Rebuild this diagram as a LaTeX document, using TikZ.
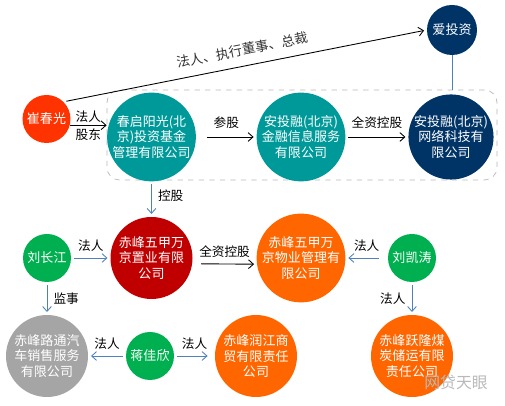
\documentclass[tikz,border=0pt]{standalone}
\usepackage{fontspec}
\setmainfont{Noto Sans CJK SC}
\usetikzlibrary{arrows.meta}
\definecolor{cjorg}{HTML}{FF3300}
\definecolor{cjteal}{HTML}{009999}
\definecolor{cjnavy}{HTML}{003366}
\definecolor{cjgreen}{HTML}{00B050}
\definecolor{cjred}{HTML}{C00000}
\definecolor{cjorange}{HTML}{FF6600}
\definecolor{cjgray}{HTML}{A5A5A5}
\definecolor{cjblue}{HTML}{4F81BD}

\begin{document}
\begin{tikzpicture}[
    co/.style={circle,inner sep=0pt,minimum size=1.64cm,text=white,align=center,
      font=\fontsize{7.4}{8.8}\selectfont},
    ps/.style={circle,inner sep=0pt,minimum size=0.96cm,text=white,
      font=\fontsize{7.4}{8.8}\selectfont},
    arr/.style={-{Straight Barb[length=2.8pt,width=5pt]},line width=0.5pt,
      shorten >=1.5pt,shorten <=1.5pt},
    barr/.style={arr,draw=cjblue},
    lbl/.style={inner sep=1.5pt,font=\fontsize{7.2}{8}\selectfont}]
  \useasboundingbox (0,0) rectangle (10.1,8.12);
  % group of the three companies
  \node[draw=gray!55,dashed,rounded corners=0.25cm,minimum width=7.8cm,
    minimum height=1.8cm] (grp) at (6.04,5.42) {};
  % people and companies
  \node[ps,fill=cjorg] (cui) at (0.93,5.74) {崔春光};
  \node[ps,fill=cjnavy,minimum size=1.0cm] (aitouzi) at (9.04,7.52) {爱投资};
  \node[co,fill=cjteal] (chunqi) at (3.03,5.38) {春启阳光(北\\京)投资基金\\管理有限公司};
  \node[co,fill=cjteal,minimum size=1.68cm] (anjr) at (6.02,5.38) {安投融(北京)\\金融信息服务\\有限公司};
  \node[co,fill=cjnavy] (anwl) at (9.02,5.38) {安投融(北京)\\网络科技有\\限公司};
  \node[ps,fill=cjgreen] (liucj) at (0.94,2.96) {刘长江};
  \node[co,fill=cjred] (zhiye) at (3.03,2.96) {赤峰五甲万\\京置业有限\\公司};
  \node[co,fill=cjorange,minimum size=1.68cm] (wuye) at (6.02,2.96) {赤峰五甲万\\京物业管理有\\限公司};
  \node[ps,fill=cjgreen] (liukt) at (8.24,2.96) {刘凯涛};
  \node[co,fill=cjgray] (lutong) at (0.94,1.00) {赤峰路通汽\\车销售服务\\有限公司};
  \node[ps,fill=cjgreen] (jiang) at (3.00,1.00) {蒋佳欣};
  \node[co,fill=cjorange] (runjiang) at (5.12,1.00) {赤峰润江商\\贸有限责任\\公司};
  \node[co,fill=cjorange] (yuelong) at (8.24,1.00) {赤峰跃隆煤\\炭储运有限\\责任公司};
  % connectors
  \draw[arr] (cui.north east) -- (aitouzi.west)
    node[lbl,midway,sloped,above=4pt,text=black!80,font=\fontsize{7.6}{8}\selectfont] {法人、执行董事、总裁};
  \draw[cjblue,line width=0.5pt] (aitouzi) -- (aitouzi |- grp.north);
  \draw[arr,shorten <=0pt,shorten >=0pt] (cui.-15) -- (cui.-15 -| grp.west)
    node[lbl,midway,above] {法人} node[lbl,midway,below] {股东};
  \draw[arr,shorten <=6pt] (chunqi) -- (anjr) node[lbl,midway,above=3pt] {参股};
  \draw[arr] (anjr) -- (anwl) node[lbl,midway,above=3pt] {全资控股};
  \draw[barr] (chunqi) -- (zhiye) node[lbl,pos=0.4,right=2pt] {控股};
  \draw[barr] (liucj) -- (zhiye) node[lbl,midway,above=2pt] {法人};
  \draw[arr,shorten <=5pt] (zhiye.-8) -- (wuye.188) node[lbl,midway,above=2pt] {全资控股};
  \draw[barr,shorten <=5pt] (liukt) -- (wuye) node[lbl,midway,above=2pt] {法人};
  \draw[barr] (liucj) -- (lutong) node[lbl,midway,right=2pt] {监事};
  \draw[barr] (liukt) -- (yuelong) node[lbl,midway,left=2pt] {法人};
  \draw[barr] (jiang) -- (lutong) node[lbl,midway,above=2pt] {法人};
  \draw[barr,shorten >=4pt] (jiang) -- (runjiang) node[lbl,midway,above=2pt] {法人};
  % watermark
  \node[text=gray!55,font=\fontsize{9}{10}\selectfont] (mark) at (9.12,0.48) {网贷天眼};
\end{tikzpicture}
\end{document}
